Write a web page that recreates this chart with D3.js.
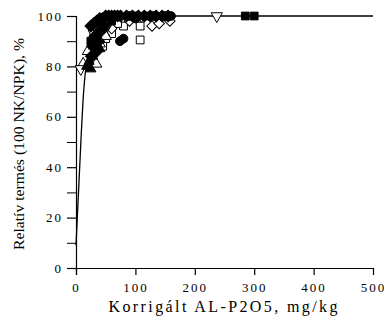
<!DOCTYPE html>
<html>
<head>
<meta charset="utf-8">
<script src="https://cdn.jsdelivr.net/npm/d3@7"></script>
<style>
  body { margin: 0; background: #fff; }
  text { font-family: "Liberation Serif", "DejaVu Serif", serif; fill: #000; }
</style>
</head>
<body>
<div id="app"></div>
<script>
// fitted response curve
const curveP = [0, 3, 6, 9, 12, 15, 20, 25, 30, 40, 50, 60, 80, 500]
const curveY = [9, 24, 39, 54, 67, 76, 84, 89, 93, 97, 99, 99.7, 100, 100]

// observations per marker type: [P2O5, relative yield]
const filledDiamond = [[25,96],[30,97],[35,98],[40,99],[45,99],[50,100],[55,100],[60,100],[65,100],[70,100],[75,100],[85,100],[95,100],[105,100],[115,100],[125,100],[135,100],[145,100],[155,100],[32,92],[38,90],[42,94],[48,96],[28,88],[35,86],[26,84]]
const filledCircle = [[74,90],[80,91],[130,100],[150,100],[160,100],[90,100],[100,99],[60,99]]
const filledTriangle = [[18,80],[22,82],[25,79],[28,84],[40,87],[30,88]]
const filledSquare = [[285,100],[300,100],[25,90],[60,98],[100,100],[120,100]]
const openSquare = [[108,90.5],[108,96],[80,96],[60,93],[50,91],[30,92],[45,88],[70,97],[40,90]]
const openDiamond = [[128,96],[158,98],[140,97],[90,98],[60,95],[45,95]]
const openTriUp = [[12,81],[34,81],[20,86],[40,89],[50,92]]
const openTriDown = [[8,79],[237,100],[30,93],[55,97],[110,100]]

const xTicks = [0, 100, 200, 300, 400, 500]
const yTicks = [0, 20, 40, 60, 80, 100]
const yMinor = [10, 30, 50, 70, 90]

const width = 386
const height = 320

const svg = d3.select('#app').append('svg')
  .attr('width', width)
  .attr('height', height)

const xScale = d3.scaleLinear().domain([0, 500]).range([76, 373])
const yScale = d3.scaleLinear().domain([0, 100]).range([268, 16])

// axes
const xAxis = svg.append('g')
  .attr('transform', `translate(0,${yScale(0)})`)
  .call(d3.axisBottom(xScale).tickValues(xTicks).tickSize(7).tickSizeOuter(0).tickPadding(8))
xAxis.select('.domain').attr('d', `M${xScale(0) - 9},0.5H${xScale(500)}`)

const yAxis = svg.append('g')
  .attr('transform', `translate(${xScale(0)},0)`)
  .call(d3.axisLeft(yScale).tickValues(yTicks).tickSize(9).tickSizeOuter(0).tickPadding(4))
yAxis.select('.domain').attr('d', `M0.5,${yScale(100)}V${yScale(0) + 7}`)
yAxis.append('g').selectAll('line')
  .data(yMinor)
  .join('line')
    .attr('x1', -9).attr('x2', 0)
    .attr('y1', d => yScale(d) + 0.5).attr('y2', d => yScale(d) + 0.5)
    .attr('stroke', '#000')

svg.selectAll('.tick text')
  .style('font-size', '13px')
  .style('letter-spacing', '2px')
  .style('font-family', '"Liberation Serif", serif')
svg.selectAll('.domain, .tick line').attr('stroke', '#000').attr('stroke-width', 1.2)

// curve
const line = d3.line()
  .x((d, i) => xScale(curveP[i]))
  .y(d => yScale(d))
  .curve(d3.curveMonotoneX)
svg.append('path')
  .datum(curveY)
  .attr('d', line)
  .attr('fill', 'none')
  .attr('stroke', '#000')
  .attr('stroke-width', 1.3)

// markers
const markerSets = [
  { data: openSquare, type: d3.symbolSquare, size: 60, rot: 0, filled: false },
  { data: openDiamond, type: d3.symbolSquare, size: 55, rot: 45, filled: false },
  { data: openTriUp, type: d3.symbolTriangle, size: 55, rot: 0, filled: false },
  { data: openTriDown, type: d3.symbolTriangle, size: 55, rot: 180, filled: false },
  { data: filledTriangle, type: d3.symbolTriangle, size: 45, rot: 0, filled: true },
  { data: filledSquare, type: d3.symbolSquare, size: 60, rot: 0, filled: true },
  { data: filledCircle, type: d3.symbolCircle, size: 60, rot: 0, filled: true },
  { data: filledDiamond, type: d3.symbolSquare, size: 70, rot: 45, filled: true },
]

markerSets.forEach(s => {
  svg.append('g').selectAll('path')
    .data(s.data)
    .join('path')
      .attr('d', d3.symbol().type(s.type).size(s.size))
      .attr('transform', d => `translate(${xScale(d[0])},${yScale(d[1])}) rotate(${s.rot})`)
      .attr('fill', s.filled ? '#000' : '#fff')
      .attr('stroke', '#000')
      .attr('stroke-width', 1)
})

// titles
svg.append('text')
  .attr('x', 223)
  .attr('y', 312)
  .attr('text-anchor', 'middle')
  .attr('textLength', 229)
  .attr('lengthAdjust', 'spacing')
  .style('font-size', '16px')
  .text('Korrigált AL-P2O5, mg/kg')

svg.append('text')
  .attr('transform', 'translate(24,144) rotate(-90)')
  .attr('text-anchor', 'middle')
  .attr('textLength', 212)
  .attr('lengthAdjust', 'spacingAndGlyphs')
  .style('font-size', '14px')
  .text('Relatív termés (100 NK/NPK), %')
</script>
</body>
</html>
